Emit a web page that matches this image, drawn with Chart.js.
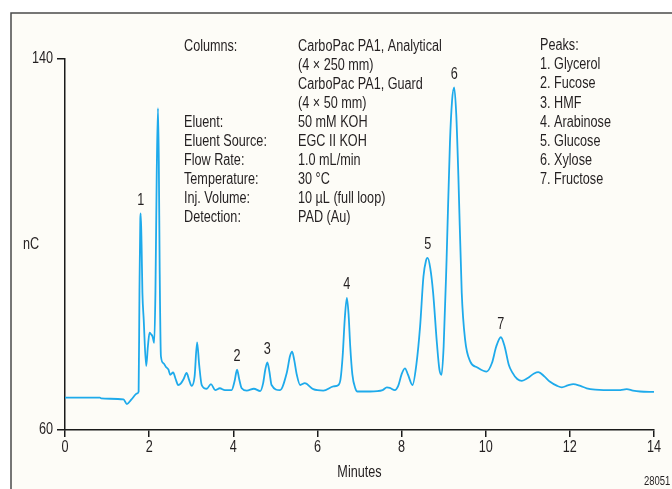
<!DOCTYPE html>
<html>
<head>
<meta charset="utf-8">
<script src="https://cdn.jsdelivr.net/npm/chart.js@4"></script>
<style>
  body { margin: 0; background: #ffffff; }
  canvas { display: block; }
</style>
</head>
<body>
<canvas id="chromatogram" width="672" height="489"></canvas>
<script>
// Chromatogram trace (minutes, nC)
const minutes = [
  0.00, 0.83, 0.86, 1.39, 1.47, 1.58, 1.72, 1.75, 1.77, 1.79, 1.80, 1.82, 1.84, 1.87, 1.93,
  1.97, 2.01, 2.04, 2.08, 2.12, 2.15, 2.18, 2.21, 2.23, 2.25, 2.28, 2.34, 2.40, 2.46, 2.50,
  2.57, 2.63, 2.69, 2.75, 2.82, 2.89, 2.95, 3.01, 3.08, 3.14, 3.19, 3.25, 3.37, 3.47, 3.57,
  3.68, 3.80, 3.96, 4.03, 4.09, 4.14, 4.20, 4.32, 4.49, 4.64, 4.71, 4.76, 4.81, 4.86, 4.91,
  5.11, 5.27, 5.35, 5.40, 5.45, 5.51, 5.59, 5.70, 5.90, 6.14, 6.38, 6.50, 6.55, 6.60, 6.65,
  6.70, 6.74, 6.78, 6.83, 6.90, 6.95, 7.25, 7.55, 7.65, 7.72, 7.84, 7.92, 8.00, 8.08, 8.15,
  8.26, 8.35, 8.44, 8.52, 8.58, 8.62, 8.68, 8.75, 8.84, 8.90, 8.95, 9.00, 9.07, 9.15, 9.20,
  9.25, 9.30, 9.35, 9.43, 9.51, 9.63, 9.80, 10.02, 10.15, 10.25, 10.36, 10.45, 10.55, 10.62, 10.75,
  10.86, 11.00, 11.15, 11.25, 11.40, 11.53, 11.70, 11.81, 11.95, 12.08, 12.25, 12.40, 12.60, 12.80, 13.20,
  13.35, 13.50, 13.67, 14.00
];
const signal = [
  67.0, 67.0, 66.8, 66.6, 65.6, 66.6, 67.9, 68.3, 90.0, 105.5, 106.7, 100.0, 89.6, 84.0, 73.8,
  78.0, 81.0, 80.7, 80.2, 78.8, 90.0, 115.0, 129.4, 118.0, 95.0, 75.9, 74.4, 73.6, 73.0, 71.9,
  72.4, 71.0, 69.7, 70.0, 71.0, 72.3, 70.8, 69.5, 71.5, 78.9, 74.0, 69.7, 68.9, 69.9, 68.6,
  69.0, 68.6, 68.6, 70.5, 73.0, 71.0, 69.0, 68.5, 68.9, 68.4, 70.1, 73.0, 74.6, 72.5, 69.7,
  68.6, 72.3, 76.0, 76.9, 75.0, 71.9, 69.7, 70.1, 68.8, 68.5, 69.4, 69.7, 71.0, 76.0, 84.0,
  88.5, 85.0, 78.0, 72.0, 69.0, 68.3, 68.3, 68.6, 69.2, 69.1, 68.6, 69.5, 72.0, 73.3, 72.0,
  69.7, 74.0, 82.3, 93.1, 96.5, 97.1, 95.0, 89.6, 78.7, 73.0, 71.9, 78.0, 96.8, 122.0, 131.0,
  133.9, 128.0, 114.8, 89.6, 79.5, 74.8, 73.5, 72.6, 74.5, 78.0, 80.0, 78.0, 74.0, 72.6, 71.0,
  70.6, 71.2, 72.2, 72.5, 71.5, 70.4, 69.5, 69.2, 69.6, 69.9, 69.5, 69.0, 68.7, 68.6, 68.6,
  68.8, 68.5, 68.3, 68.2
];

// Numbered peaks and where they sit on the trace
const peakNumbers = ["1", "2", "3", "4", "5", "6", "7"];
const peakTimes = [1.80, 4.09, 4.81, 6.70, 8.62, 9.25, 10.36];
const peakHeights = [106.7, 73.0, 74.6, 88.5, 97.1, 133.9, 80.0];
const peakNames = ["Glycerol", "Fucose", "HMF", "Arabinose", "Glucose", "Xylose", "Fructose"];

// Axis ticks
const xTicks = [0, 2, 4, 6, 8, 10, 12, 14];
const yTicks = [60, 140];

// Conditions block
const conditionLabels = ["Columns:", "", "", "", "Eluent:", "Eluent Source:", "Flow Rate:",
  "Temperature:", "Inj. Volume:", "Detection:"];
const conditionValues = ["CarboPac PA1, Analytical", "(4 \u00d7 250 mm)", "CarboPac PA1, Guard",
  "(4 \u00d7 50 mm)", "50 mM KOH", "EGC II KOH", "1.0 mL/min", "30 \u00b0C",
  "10 \u00b5L (full loop)", "PAD (Au)"];

const FONT = '"Liberation Sans Narrow", "Liberation Sans", Arial, sans-serif';
const INK = "#231f20";
const NARROW = 0.79; // no condensed face installed, so squeeze the text

// write text squeezed horizontally like the original condensed type
function narrowText(ctx, text, x, y, align) {
  ctx.save();
  ctx.translate(x, y);
  ctx.scale(NARROW, 1);
  ctx.textAlign = align;
  ctx.fillText(text, 0, 0);
  ctx.restore();
}

// background + frame behind the chart
const framePlugin = {
  id: "frame",
  beforeDraw(chart) {
    const ctx = chart.ctx;
    ctx.save();
    ctx.fillStyle = "#ffffff";
    ctx.fillRect(0, 0, chart.width, chart.height);
    ctx.fillStyle = "#fdfcf7";
    ctx.fillRect(11, 13, chart.width - 11, chart.height - 13);
    ctx.strokeStyle = "#4a4a4a";
    ctx.lineWidth = 1.5;
    ctx.beginPath();
    ctx.moveTo(11, chart.height);
    ctx.lineTo(11, 13);
    ctx.lineTo(chart.width, 13);
    ctx.stroke();
    ctx.restore();
  },
};

// tick labels, peak numbers, conditions text, axis titles
const textPlugin = {
  id: "texts",
  afterDraw(chart) {
    const ctx = chart.ctx;
    const x = chart.scales.x;
    const y = chart.scales.y;
    ctx.save();
    ctx.fillStyle = INK;
    ctx.font = "16px " + FONT;
    ctx.textBaseline = "middle";

    x.ticks.forEach((t) => narrowText(ctx, String(t.value), x.getPixelForValue(t.value), x.top + 18, "center"));
    y.ticks.forEach((t) => narrowText(ctx, String(t.value), y.right - 12, y.getPixelForValue(t.value), "right"));

    peakNumbers.forEach((n, i) => {
      narrowText(ctx, n, x.getPixelForValue(peakTimes[i]), y.getPixelForValue(peakHeights[i]) - 13, "center");
    });

    conditionLabels.forEach((label, i) => {
      const ty = 46.5 + i * 19.05;
      if (label) narrowText(ctx, label, 184, ty, "left");
      narrowText(ctx, conditionValues[i], 298, ty, "left");
    });

    narrowText(ctx, "Peaks:", 540, 45.5, "left");
    peakNames.forEach((name, i) => {
      narrowText(ctx, peakNumbers[i] + ". " + name, 540, 45.5 + (i + 1) * 19.2, "left");
    });

    narrowText(ctx, "Minutes", (x.left + x.right) / 2, 473, "center");
    narrowText(ctx, "nC", 31, 245, "center");

    ctx.font = "12px " + FONT;
    narrowText(ctx, "28051", 644, 482, "left");
    ctx.restore();
  },
};

const axisLine = { display: true, color: "#1a1a1a", width: 1.5 };

new Chart(document.getElementById("chromatogram"), {
  type: "scatter",
  data: {
    datasets: [
      {
        data: minutes.map((t, i) => ({ x: t, y: signal[i] })),
        showLine: true,
        borderColor: "#1eaaeb",
        borderWidth: 1.8,
        pointRadius: 0,
        tension: 0.3,
        cubicInterpolationMode: "monotone",
      },
    ],
  },
  options: {
    responsive: false,
    animation: false,
    devicePixelRatio: 1,
    layout: { padding: { top: 59, right: 18, left: 0, bottom: 0 } },
    plugins: { legend: { display: false }, tooltip: { enabled: false } },
    scales: {
      x: {
        type: "linear",
        min: 0,
        max: 14,
        afterBuildTicks: (axis) => { axis.ticks = xTicks.map((v) => ({ value: v })); },
        afterFit: (axis) => { axis.height = 59; },
        border: axisLine,
        grid: { drawOnChartArea: false, drawTicks: true, tickLength: 7, color: "#1a1a1a", lineWidth: 1.5 },
        ticks: { display: false },
      },
      y: {
        type: "linear",
        min: 60,
        max: 140,
        afterBuildTicks: (axis) => { axis.ticks = yTicks.map((v) => ({ value: v })); },
        afterFit: (axis) => { axis.width = 65; },
        border: axisLine,
        grid: { drawOnChartArea: false, drawTicks: true, tickLength: 8, color: "#1a1a1a", lineWidth: 1.5 },
        ticks: { display: false },
      },
    },
  },
  plugins: [framePlugin, textPlugin],
});
</script>
</body>
</html>
